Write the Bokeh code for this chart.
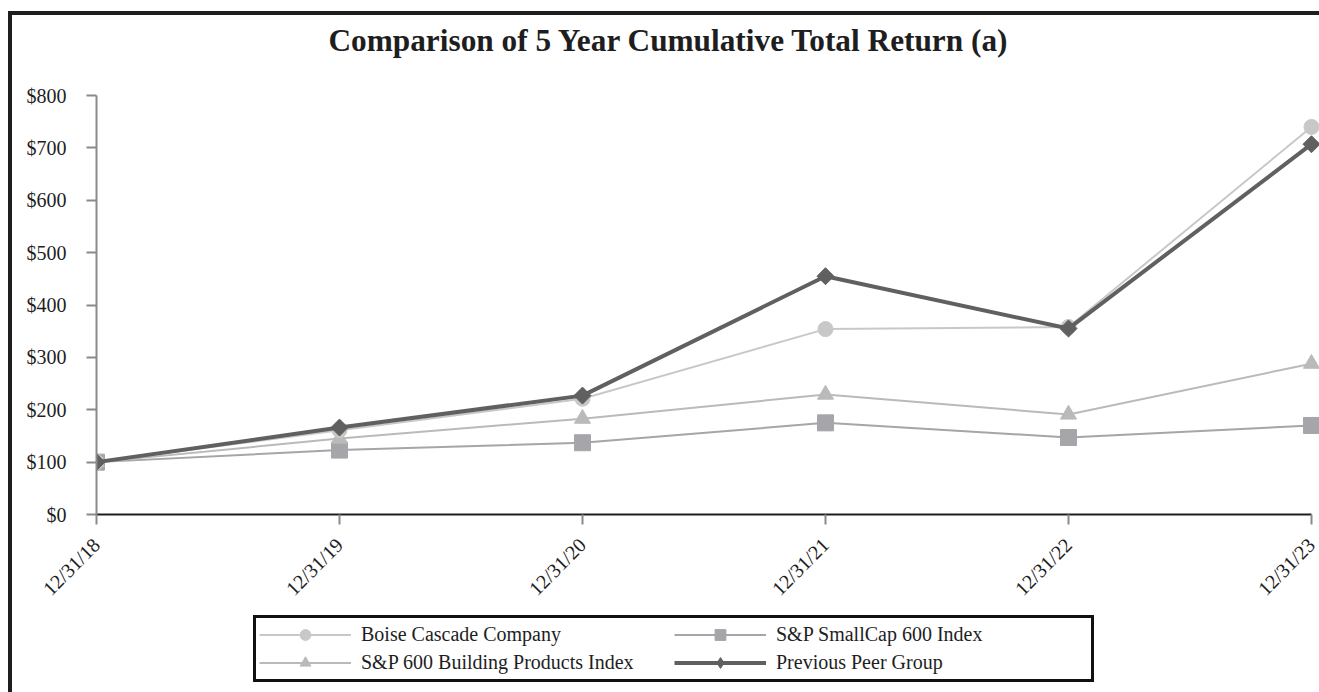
import math
from bokeh.plotting import figure
from bokeh.layouts import column
from bokeh.models import Range1d, FixedTicker, Legend, LegendItem
from bokeh.embed import file_html
from bokeh.resources import INLINE

# ---- data ----
dates = ["12/31/18", "12/31/19", "12/31/20", "12/31/21", "12/31/22", "12/31/23"]
boise = [100, 161, 221, 354, 358, 740]
smallcap = [100, 123, 137, 175, 147, 170]
building = [100, 145, 183, 229, 191, 288]
peer = [100, 166, 227, 455, 355, 707]
series_names = ["Boise Cascade Company", "S&P SmallCap 600 Index",
                "S&P 600 Building Products Index", "Previous Peer Group"]
y_ticks = [0, 100, 200, 300, 400, 500, 600, 700, 800]
y_labels = ["$0", "$100", "$200", "$300", "$400", "$500", "$600", "$700", "$800"]
title_text = "Comparison of 5 Year Cumulative Total Return (a)"

xs = list(range(len(dates)))
FONT = "Liberation Serif"
W, H0, H1, H2 = 1319, 83, 527, 82


def bare(fig):
    fig.border_fill_alpha = 0
    fig.background_fill_alpha = 0
    fig.outline_line_color = None
    fig.grid.visible = False


# ---------------- title strip ----------------
p0 = figure(width=W, height=H0, x_range=Range1d(0, 1), y_range=Range1d(0, 1),
            output_backend="svg", toolbar_location=None,
            x_axis_location=None, y_axis_location=None,
            min_border_left=0, min_border_right=0, min_border_top=0, min_border_bottom=0)
bare(p0)
p0.title.text = title_text
p0.title.text_font = FONT
p0.title.text_font_size = "31.3px"
p0.title.text_font_style = "bold"
p0.title.text_color = "#1e1e1e"
p0.title.align = "left"
p0.title.offset = 232
p0.title.standoff = 40

# ---------------- main chart ----------------
p = figure(width=W, height=H1, x_range=Range1d(0, 5.033), y_range=Range1d(0, 800),
           output_backend="svg", toolbar_location=None,
           min_border_left=96, min_border_right=0, min_border_top=12, min_border_bottom=96)
p.border_fill_alpha = 0
p.background_fill_color = "white"
p.outline_line_color = None
p.xgrid.grid_line_color = None
p.ygrid.grid_line_color = None

# x axis
p.xaxis.ticker = FixedTicker(ticks=xs)
p.xaxis.major_label_overrides = {i: d for i, d in enumerate(dates)}
p.xaxis.bounds = (0, 5)
p.xaxis.axis_line_color = "#1e1e1e"
p.xaxis.axis_line_width = 2
p.xaxis.major_tick_line_color = "#8a8a8a"
p.xaxis.major_tick_line_width = 2
p.xaxis.major_tick_out = 10
p.xaxis.major_tick_in = 0
p.xaxis.minor_tick_line_color = None
p.xaxis.major_label_orientation = math.pi / 4
p.xaxis.major_label_standoff = 17
p.xaxis.major_label_text_font = FONT
p.xaxis.major_label_text_font_size = "20px"
p.xaxis.major_label_text_color = "#1e1e1e"

# y axis
p.yaxis.ticker = FixedTicker(ticks=y_ticks)
p.yaxis.major_label_overrides = {t: l for t, l in zip(y_ticks, y_labels)}
p.yaxis.axis_line_color = "#8a8a8a"
p.yaxis.axis_line_width = 2
p.yaxis.major_tick_line_color = "#8a8a8a"
p.yaxis.major_tick_line_width = 2
p.yaxis.major_tick_out = 10
p.yaxis.major_tick_in = 0
p.yaxis.minor_tick_line_color = None
p.yaxis.major_label_standoff = 20
p.yaxis.major_label_text_font = FONT
p.yaxis.major_label_text_font_size = "20px"
p.yaxis.major_label_text_color = "#1e1e1e"

# series styles
STY = {
    "boise": dict(color="#c8c8c8", width=2, marker="circle", size=15, angle=0),
    "small": dict(color="#a5a5aa", width=2, marker="square", size=16, angle=0),
    "build": dict(color="#bababa", width=2, marker="triangle", size=16, angle=0),
    "peer": dict(color="#606060", width=4, marker="square", size=12, angle=math.pi / 4),
}


def draw(fig, ys, key, marker=None):
    s = STY[key]
    ln = fig.line(xs, ys, line_color=s["color"], line_width=s["width"])
    mk = fig.scatter(xs, ys, marker=marker or s["marker"], size=s["size"],
                     angle=0 if marker else s["angle"],
                     fill_color=s["color"], line_color=s["color"])
    return [ln, mk]


draw(p, smallcap, "small")
draw(p, building, "build")
draw(p, boise, "boise")
draw(p, peer, "peer")

# ---------------- legend strip ----------------
p2 = figure(width=W, height=H2, x_range=Range1d(100, 101), y_range=Range1d(0, 1),
            output_backend="svg", toolbar_location=None,
            x_axis_location=None, y_axis_location=None,
            min_border_left=0, min_border_right=0, min_border_top=0, min_border_bottom=0)
bare(p2)

r_boise = draw(p2, boise, "boise")
r_small = draw(p2, smallcap, "small")
r_build = draw(p2, building, "build")
r_peer = draw(p2, peer, "peer", marker="diamond")

items = [
    LegendItem(label=series_names[0], renderers=r_boise),
    LegendItem(label=series_names[2], renderers=r_build),
    LegendItem(label=series_names[1], renderers=r_small),
    LegendItem(label=series_names[3], renderers=r_peer),
]
legend = Legend(items=items, ncols=2, location=(157, 10),
                glyph_width=92, glyph_height=27, label_standoff=10,
                label_width=312, label_height=27, spacing=1, padding=3, margin=0,
                border_line_color="#111111", border_line_width=3, border_line_alpha=1,
                label_text_font=FONT, label_text_font_size="20px",
                label_text_color="#1e1e1e", background_fill_color="white", background_fill_alpha=1)
p2.add_layout(legend, "center")

layout = column(p0, p, p2, spacing=0, styles={
    "background-color": "white",
    "background-image": "linear-gradient(#1e1e1e, #1e1e1e), linear-gradient(#1e1e1e, #1e1e1e)",
    "background-size": "4px 100%, 100% 4px",
    "background-position": "8px 11px, 8px 11px",
    "background-repeat": "no-repeat",
})

open("out.html", "w").write(file_html(layout, INLINE))
